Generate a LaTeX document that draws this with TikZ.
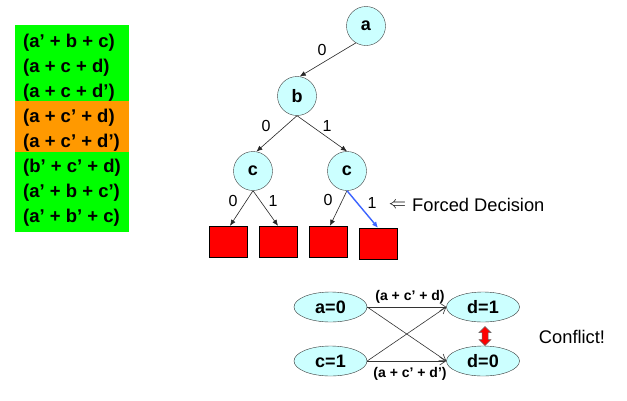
\documentclass[tikz,border=0pt]{standalone}
\usepackage{fontspec}
\setmainfont{Liberation Sans}
\usetikzlibrary{shapes.geometric,arrows.meta,calc}
\definecolor{grn}{RGB}{0,255,0}
\definecolor{org}{RGB}{255,153,0}
\definecolor{cyanfill}{RGB}{204,255,255}
\definecolor{blueedge}{RGB}{60,100,255}
\begin{document}
\begin{tikzpicture}[x=1pt,y=-1pt,
  clause/.style={anchor=west,inner sep=0pt,font=\fontsize{18.5}{20}\selectfont\bfseries},
  tnode/.style={circle,draw=black!75,fill=cyanfill,minimum size=39pt,inner sep=0pt,font=\fontsize{18}{20}\selectfont\bfseries},
  leaf/.style={rectangle,draw=black,fill=red,minimum width=38pt,minimum height=31pt,inner sep=0pt},
  elab/.style={font=\fontsize{16}{18}\selectfont,inner sep=0pt},
  tedge/.style={draw=black!85,line width=0.6pt,-{Latex[length=6pt,width=5pt]}},
  enode/.style={ellipse,draw=black!80,fill=cyanfill,minimum width=73pt,minimum height=30pt,inner sep=0pt,font=\fontsize{18}{20}\selectfont\bfseries},
  iedge/.style={draw=black!80,line width=0.6pt,-{Straight Barb[length=6pt,width=8pt]}},
  ilab/.style={font=\fontsize{14}{16}\selectfont\bfseries,inner sep=0pt},
  plain/.style={font=\fontsize{18.3}{20}\selectfont,inner sep=0pt}
]
\fill[white] (0,0) rectangle (627,400);
\useasboundingbox (0,0) rectangle (627,400);

% clause box
\fill[grn] (15,25) rectangle (129,101);
\fill[org] (15,101) rectangle (129,152);
\fill[grn] (15,152) rectangle (129,232);
\node[clause] (c1) at (23,43)    {(a’ + b + c)};
\node[clause] (c2) at (23,67.9)  {(a + c + d)};
\node[clause] (c3) at (23,92.8)  {(a + c + d’)};
\node[clause] (c4) at (23,117.7) {(a + c’ + d)};
\node[clause] (c5) at (23,142.6) {(a + c’ + d’)};
\node[clause] (c6) at (23,167.5) {(b’ + c’ + d)};
\node[clause] (c7) at (23,192.4) {(a’ + b + c’)};
\node[clause] (c8) at (23,217.3) {(a’ + b’ + c)};

% decision tree
\node[tnode] (a)  at (366,26)  {a};
\node[tnode] (b)  at (297,96)  {b};
\node[tnode] (cl) at (253,171) {c};
\node[tnode] (cr) at (347,171) {c};
\node[leaf] (s1) at (228,241.5) {};
\node[leaf] (s2) at (278,241.5) {};
\node[leaf] (s3) at (328.5,241.5) {};
\node[leaf] (s4) at (378,243.5) {};

\draw[tedge] (a.239) -- (b.82);
\draw[tedge] (b.270) -- (cl.80);
\draw[tedge] (b.270) -- (cr.90);
\draw[tedge] (cl.south) -- ([xshift=2pt]s1.north);
\draw[tedge] (cl.south) -- (s2.north);
\draw[tedge] (cr.south) -- ([xshift=1.5pt]s3.north);
\draw[draw=blueedge,line width=1.4pt,-{Latex[length=6pt,width=5.5pt]}] (cr.south) -- (s4.north);

\node[elab] (e1) at (322,50)  {0};
\node[elab] (e2) at (266,126) {0};
\node[elab] (e3) at (327,126) {1};
\node[elab] (e4) at (233,201) {0};
\node[elab] (e5) at (273,201) {1};
\node[elab] (e6) at (328,200) {0};
\node[elab] (e7) at (372,203) {1};
\node[inner sep=0pt,font=\fontsize{18}{20}\selectfont] (fa) at (397.5,205) {$\Leftarrow$};
\node[plain,anchor=west] (fd) at (412,205) {Forced Decision};

% implication graph
\node[enode] (a0) at (330.5,307) {a=0};
\node[enode] (c1n) at (330.5,361) {c=1};
\node[enode] (d1) at (483,307) {d=1};
\node[enode] (d0) at (483,361) {d=0};
\draw[iedge] (a0.east) -- (d1.west);
\draw[iedge] (a0.east) -- (d0.west);
\draw[iedge] (c1n.east) -- (d1.west);
\draw[iedge] (c1n.east) -- (d0.west);
\node[ilab] (l1) at (410,297) {(a + c’ + d)};
\node[ilab] (l2) at (410,374) {(a + c’ + d’)};
\coordinate (ct) at ($(d1.south)!0.5!(d0.north)+(2,2)$);
\draw[fill=red,draw=black!60,line width=0.5pt,line join=miter]
  (ct) ++(0,-9.5) -- ++(6,6) -- ++(-3,0) -- ++(0,7) -- ++(3,0) -- ++(-6,6)
  -- ++(-6,-6) -- ++(3,0) -- ++(0,-7) -- ++(-3,0) -- cycle;
\node[plain] (cf) at (572,337) {Conflict!};
\end{tikzpicture}
\end{document}
